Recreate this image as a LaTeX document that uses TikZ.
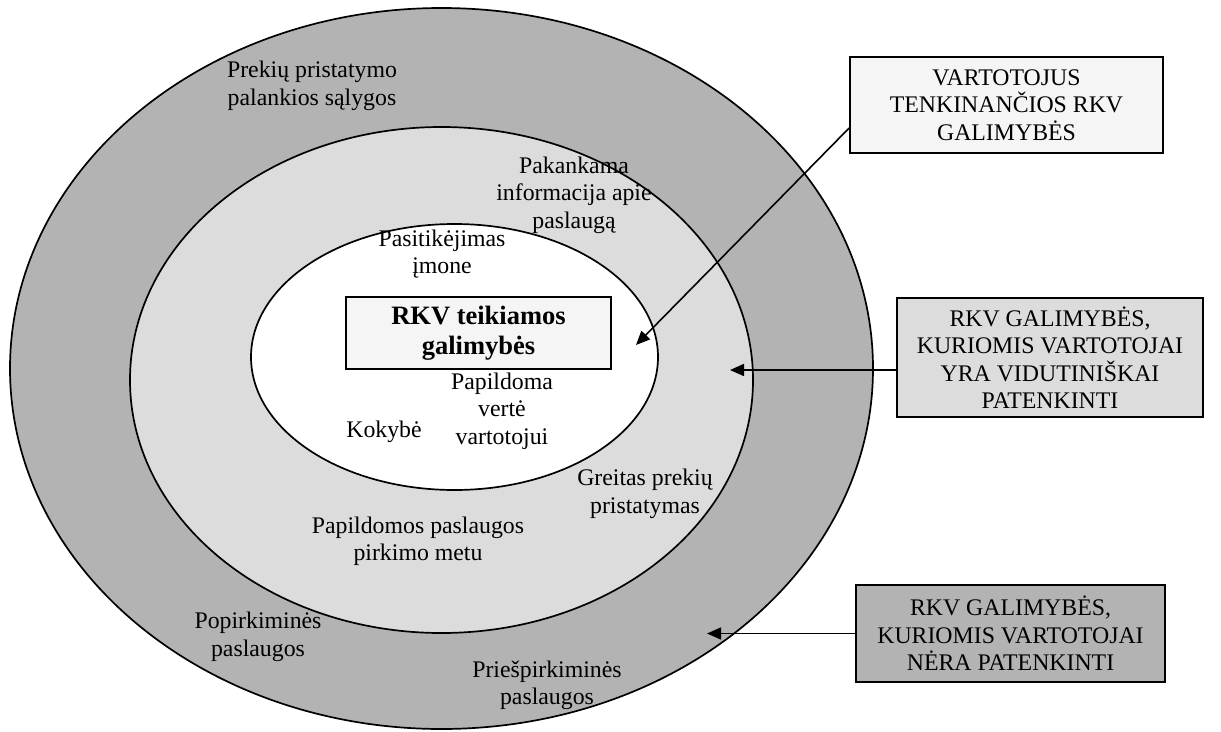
\documentclass[tikz,border=0pt]{standalone}
\usepackage{fontspec}
\setmainfont{Liberation Serif}
\usetikzlibrary{arrows.meta}
\definecolor{ringdark}{HTML}{B3B3B3}
\definecolor{ringlight}{HTML}{DCDCDC}
\definecolor{boxpale}{HTML}{F5F5F5}
\begin{document}
\begin{tikzpicture}[x=1pt,y=-1pt,
  ring/.style={draw=black, line width=1.7pt},
  lbl/.style={align=center, inner sep=0pt, font=\fontsize{23.8}{27.4}\selectfont},
  legend/.style={draw=black, line width=1.7pt, align=center, inner sep=0pt,
                 font=\fontsize{23.8}{27.4}\selectfont},
  pointer/.style={line width=1.6pt, -{Triangle[length=14pt,width=12pt]}}]
\useasboundingbox (0,0) rectangle (1221,731);

% nested rings
\draw[ring, fill=ringdark]  (441.5,368.5) ellipse [x radius=431.5pt, y radius=360.5pt];
\draw[ring, fill=ringlight] (441.5,380)   ellipse [x radius=311.5pt, y radius=253pt];
\draw[ring, fill=white]     (454.5,357)   ellipse [x radius=203.5pt, y radius=133pt];

% core box
\node[legend, fill=boxpale, minimum width=265pt, minimum height=72pt,
      font=\fontsize{26.5}{30.5}\selectfont\bfseries] (core) at (478.5,333)
      {RKV teikiamos\\galimybės};

% labels in the rings
\node[lbl] (t1) at (312,86)    {Prekių pristatymo\\palankios sąlygos};
\node[lbl] (t2) at (574,195)   {Pakankama\\informacija apie\\paslaugą};
\node[lbl] (t3) at (442,254)   {Pasitikėjimas\\įmone};
\node[lbl] (t4) at (502,411)   {Papildoma\\vertė\\vartotojui};
\node[lbl] (t5) at (384,432)   {Kokybė};
\node[lbl] (t6) at (645,494)   {Greitas prekių\\pristatymas};
\node[lbl] (t7) at (418,541)   {Papildomos paslaugos\\pirkimo metu};
\node[lbl] (t8) at (258,637)   {Popirkiminės\\paslaugos};
\node[lbl] (t9) at (547,685)   {Priešpirkiminės\\paslaugos};

% legend boxes
\node[legend, fill=boxpale, minimum width=313pt, minimum height=96pt] (vt) at (1006.5,105)
      {VARTOTOJUS\\TENKINANČIOS RKV\\GALIMYBĖS};
\node[legend, fill=ringlight, minimum width=306pt, minimum height=119pt] (mr) at (1050,357.5)
      {RKV GALIMYBĖS,\\KURIOMIS VARTOTOJAI\\YRA VIDUTINIŠKAI\\PATENKINTI};
\node[legend, fill=ringdark, minimum width=309pt, minimum height=97pt] (br) at (1010.5,633.5)
      {RKV GALIMYBĖS,\\KURIOMIS VARTOTOJAI\\NĖRA PATENKINTI};

% pointers into the rings
\coordinate (tipA) at (636,345);
\coordinate (tipB) at (730,370);
\coordinate (tipC) at (707,633.5);
\draw[pointer] ([yshift=-23pt]vt.west) -- (tipA);
\draw[pointer] ([yshift=-12.5pt]mr.west) -- (tipB);
\draw[pointer] (br.west) -- (tipC);
\end{tikzpicture}
\end{document}
